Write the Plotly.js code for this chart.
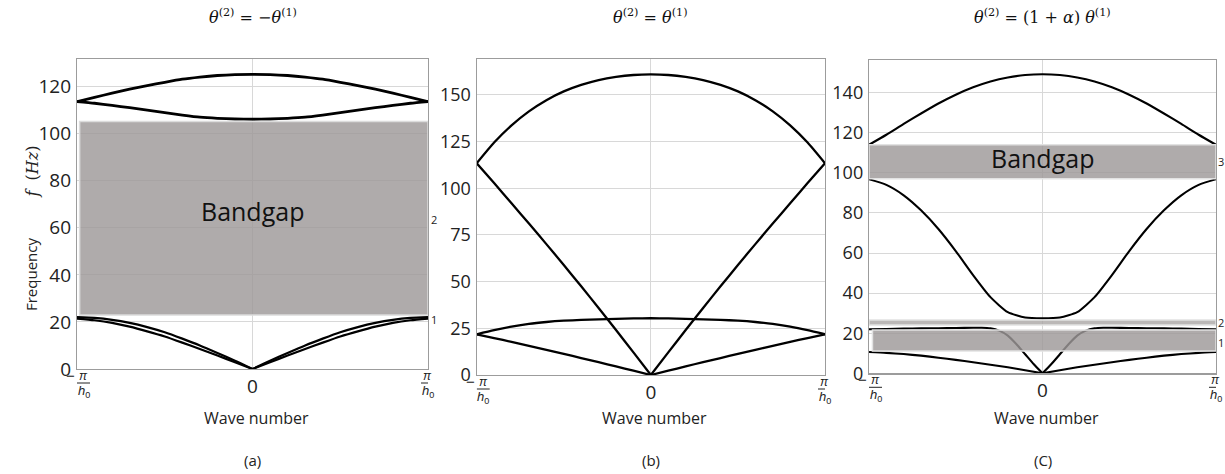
<!DOCTYPE html>
<html>
<head>
<meta charset="utf-8">
<script src="https://cdn.plot.ly/plotly-3.0.1.min.js"></script>
<style>html,body{margin:0;padding:0;background:#fff;}#chart{width:1225px;height:474px;}</style>
</head>
<body>
<div id="chart"></div>
<script>
// ---------- data ----------
const k = [-1,-0.9,-0.8,-0.7,-0.6,-0.5,-0.4,-0.3,-0.2,-0.1,0,0.1,0.2,0.3,0.4,0.5,0.6,0.7,0.8,0.9,1];
const kFine = [-1,-0.9,-0.8,-0.7,-0.6,-0.5,-0.4,-0.35,-0.3,-0.25,-0.2,-0.15,-0.1,-0.05,0,0.05,0.1,0.15,0.2,0.25,0.3,0.35,0.4,0.5,0.6,0.7,0.8,0.9,1];

// panel (a): theta2 = -theta1
const aLowOuter = [22.0,21.7,20.9,19.6,17.8,15.6,12.9,10.0,6.8,3.5,0,3.5,6.8,10.0,12.9,15.6,17.8,19.6,20.9,21.7,22.0];
const aLowInner = [21.4,20.7,19.6,18.0,16.0,13.8,11.2,8.5,5.7,2.9,0,2.9,5.7,8.5,11.2,13.8,16.0,18.0,19.6,20.7,21.4];
const aUpTop    = [113.6,115.4,117.2,118.9,120.4,121.8,123.1,124.0,124.7,125.1,125.2,125.1,124.7,124.0,123.1,121.8,120.4,118.9,117.2,115.4,113.6];
const aUpBot    = [113.6,112.9,112.0,111.0,110.0,108.9,107.9,107.0,106.5,106.2,106.1,106.2,106.5,107.0,107.9,108.9,110.0,111.0,112.0,112.9,113.6];

// panel (b): theta2 = theta1
const bAc1 = [21.8,19.8,17.7,15.6,13.5,11.3,9.1,6.9,4.6,2.3,0,2.3,4.6,6.9,9.1,11.3,13.5,15.6,17.7,19.8,21.8];
const bOp1 = [21.8,24.0,25.9,27.4,28.4,29.1,29.5,29.8,30.1,30.3,30.4,30.3,30.1,29.8,29.5,29.1,28.4,27.4,25.9,24.0,21.8];
const bAc2 = [113.4,102.8,92.0,81.1,70.1,58.9,47.5,35.9,24.1,12.1,0,12.1,24.1,35.9,47.5,58.9,70.1,81.1,92.0,102.8,113.4];
const bOp2 = [113.4,124.5,133.7,141.2,147.2,151.9,155.4,158.0,159.7,160.7,161.0,160.7,159.7,158.0,155.4,151.9,147.2,141.2,133.7,124.5,113.4];

// panel (c): theta2 = (1+alpha) theta1
const cBot = [10.6,10.2,9.6,8.8,7.8,6.7,5.5,4.3,3.0,1.5,0,1.5,3.0,4.3,5.5,6.7,7.8,8.8,9.6,10.2,10.6];
const cDip = [22.0,22.1,22.3,22.4,22.5,22.6,22.7,22.7,22.4,21.3,18.8,14.5,9.5,4.5,0,4.5,9.5,14.5,18.8,21.3,22.4,22.7,22.7,22.6,22.5,22.4,22.3,22.1,22.0];
const cMid = [96.8,94.0,88.8,81.3,72.0,61.0,49.0,38.0,30.5,27.8,27.4,27.8,30.5,38.0,49.0,61.0,72.0,81.3,88.8,94.0,96.8];
const cTop = [114.0,119.0,124.4,129.6,134.6,139.0,142.7,145.6,147.6,148.8,149.2,148.8,147.6,145.6,142.7,139.0,134.6,129.6,124.4,119.0,114.0];

// band gaps
const gapLowA  = [22.9];
const gapHighA = [105.1];
const gapLowC  = [11.1, 24.1, 97.0];
const gapHighC = [21.6, 26.6, 114.0];

// band labels at right side
const labA  = ['1', '2'];
const labAY = [21.0, 63.5];
const labC  = ['1', '2', '3'];
const labCY = [15.3, 25.2, 105.6];

// axis ticks
const yTicksA = [0,20,40,60,80,100,120];
const yTicksB = [0,25,50,75,100,125,150];
const yTicksC = [0,20,40,60,80,100,120,140];
const yRangeA = [0,131.7], yRangeB = [0,169.1], yRangeC = [0,156.3];

const panelTitles = ['<i>θ</i><sup>(2)</sup> = −<i>θ</i><sup>(1)</sup>', '<i>θ</i><sup>(2)</sup> = <i>θ</i><sup>(1)</sup>', '<i>θ</i><sup>(2)</sup> = (1 + <i>α</i>) <i>θ</i><sup>(1)</sup>'];
const panelTags = ['(a)', '(b)', '(C)'];

// ---------- build ----------
const W = 1225, H = 474;
const traces = [];
function curve(xs, ys, ax, w, splitCenter) {
  const xa = ax === 1 ? 'x' : 'x' + ax, ya = ax === 1 ? 'y' : 'y' + ax;
  const ln = {color: '#000', width: w, shape: 'spline', smoothing: 0.6};
  if (splitCenter) {
    const m = xs.indexOf(0);
    traces.push({x: xs.slice(0, m + 1), y: ys.slice(0, m + 1), xaxis: xa, yaxis: ya, mode: 'lines', line: ln, hoverinfo: 'skip'});
    traces.push({x: xs.slice(m), y: ys.slice(m), xaxis: xa, yaxis: ya, mode: 'lines', line: ln, hoverinfo: 'skip'});
  } else {
    traces.push({x: xs, y: ys, xaxis: xa, yaxis: ya, mode: 'lines', line: ln, hoverinfo: 'skip'});
  }
}
curve(k, aLowOuter, 1, 2.2, true);
curve(k, aLowInner, 1, 2.2, true);
curve(k, aUpTop, 1, 2.8, false);
curve(k, aUpBot, 1, 2.8, false);
curve(k, bAc1, 2, 2.3, true);
curve(k, bOp1, 2, 2.3, false);
curve(k, bAc2, 2, 2.3, true);
curve(k, bOp2, 2, 2.3, false);
curve(k, cBot, 3, 2.1, true);
curve(kFine, cDip, 3, 2.1, true);
curve(k, cMid, 3, 2.1, false);
curve(k, cTop, 3, 2.1, false);

// domains (px -> paper)
const dom = [
  {x: [77, 428], y: [59, 369]},
  {x: [476.7, 825], y: [59.3, 375]},
  {x: [869, 1216], y: [60, 373.3]}
];
const px = v => v / W, py = v => 1 - v / H;

const gridC = '#d8d8d8', frameC = '#9c9c9c';
function xAxis(i) {
  return {domain: [px(dom[i].x[0]), px(dom[i].x[1])], range: [-1, 1], anchor: i === 0 ? 'y' : 'y' + (i + 1),
    tickvals: [0], ticktext: ['0'], showgrid: true, gridcolor: gridC, gridwidth: 1, zeroline: false,
    showline: true, mirror: true, linecolor: frameC, linewidth: 1.2, ticks: '', tickfont: {size: 19, color: '#222', family: 'Open Sans'}, fixedrange: true};
}
function yAxis(i, tv, rg, fs) {
  return {domain: [py(dom[i].y[1]), py(dom[i].y[0])], range: rg, anchor: i === 0 ? 'x' : 'x' + (i + 1),
    tickvals: tv, showgrid: true, gridcolor: gridC, gridwidth: 1, zeroline: false,
    showline: true, mirror: true, linecolor: frameC, linewidth: 1.2, ticks: '', ticklabelstandoff: 1,
    tickfont: {size: fs, color: '#222', family: 'Open Sans'}, fixedrange: true};
}

const shapes = [];
const annotations = [];
const gapFill = 'rgba(158,153,152,0.82)';
function band(i, lo, hi, x0, fill, lineC) {
  const xa = i === 0 ? 'x' : 'x' + (i + 1), ya = i === 0 ? 'y' : 'y' + (i + 1);
  shapes.push({type: 'rect', xref: xa, yref: ya, x0: x0, x1: 1, y0: lo, y1: hi, fillcolor: fill, line: {color: lineC, width: 1.5}, layer: 'above'});
}
gapLowA.forEach((lo, j) => band(0, lo, gapHighA[j], -0.985, gapFill, '#dcdcdc'));
gapLowC.forEach((lo, j) => band(2, lo, gapHighC[j], j === 0 ? -0.98 : -1, j === 1 ? 'rgba(170,166,165,0.8)' : gapFill, '#e2e2e2'));

// Bandgap texts
annotations.push({xref: 'x', yref: 'y', x: 0, y: 67, text: 'Bandgap', showarrow: false, font: {family: 'Open Sans', size: 25, color: '#111'}});
annotations.push({xref: 'x3', yref: 'y3', x: 0, y: 107.4, text: 'Bandgap', showarrow: false, font: {family: 'Open Sans', size: 25, color: '#111'}});

// band number labels
labA.forEach((t, j) => annotations.push({xref: 'x', yref: 'y', x: 1, y: labAY[j], xanchor: 'left', xshift: 1, text: t, showarrow: false, font: {size: 11, color: '#222'}}));
labC.forEach((t, j) => annotations.push({xref: 'x3', yref: 'y3', x: 1, y: labCY[j], xanchor: 'left', xshift: 0, text: t, showarrow: false, font: {size: 11, color: '#222'}}));

// x tick fractions  -pi/h0 and pi/h0
for (let i = 0; i < 3; i++) {
  const xa = i === 0 ? 'x' : 'x' + (i + 1), yd = (i === 0 ? 'y' : 'y' + (i + 1)) + ' domain';
  [[-1, 6.5], [1, -0.5]].forEach(([xv, sh]) => {
    annotations.push({xref: xa, yref: yd, x: xv, y: 0, xshift: sh, yshift: -7, yanchor: 'middle', text: '<i>π</i>', showarrow: false, font: {family: 'Liberation Sans', size: 12, color: '#222'}});
    annotations.push({xref: xa, yref: yd, x: xv, y: 0, xshift: sh, yshift: -22, yanchor: 'middle', text: '<i>h</i><sub>0</sub>', showarrow: false, font: {family: 'Liberation Sans', size: 13, color: '#222'}});
    shapes.push({type: 'line', xref: xa, yref: yd, xsizemode: 'pixel', ysizemode: 'pixel', xanchor: xv, yanchor: 0,
      x0: sh - 6.5, x1: sh + 6.5, y0: -14, y1: -14, line: {color: '#222', width: 1}});
  });
  annotations.push({xref: xa, yref: yd, x: -1, y: 0, xshift: -6.5, yshift: -6, yanchor: 'middle', text: '−', showarrow: false, font: {family: 'Liberation Sans', size: 15, color: '#222'}});
  // axis titles and tags
  annotations.push({xref: xa + ' domain', yref: 'paper', x: 0.5, y: py(418), xshift: 4, yanchor: 'middle', text: 'Wave number', showarrow: false, font: {family: 'Open Sans', size: 16, color: '#222'}});
  annotations.push({xref: xa + ' domain', yref: 'paper', x: 0.5, y: py(460), yanchor: 'middle', text: panelTags[i], showarrow: false, font: {family: 'Open Sans', size: 15, color: '#222'}});
  annotations.push({xref: xa + ' domain', yref: 'paper', x: 0.5, y: py(16), yanchor: 'middle', text: panelTitles[i], showarrow: false, font: {family: 'DejaVu Serif', size: 16, color: '#111'}});
}
// y title of panel (a)
annotations.push({xref: 'paper', yref: 'paper', x: px(19), y: py(275), textangle: -90, text: 'Frequency', showarrow: false, font: {family: 'Open Sans', size: 15, color: '#222'}});
annotations.push({xref: 'paper', yref: 'paper', x: px(20), y: py(172), textangle: -90, text: '<i>f</i>  (<i>Hz</i>)', showarrow: false, font: {family: 'DejaVu Serif', size: 16, color: '#222'}});

const layout = {
  width: W, height: H, margin: {l: 0, r: 0, t: 0, b: 0}, showlegend: false,
  paper_bgcolor: '#fff', plot_bgcolor: '#fff', font: {family: 'Open Sans', color: '#222'},
  xaxis: xAxis(0), xaxis2: xAxis(1), xaxis3: xAxis(2),
  yaxis: yAxis(0, yTicksA, yRangeA, 19), yaxis2: yAxis(1, yTicksB, yRangeB, 18), yaxis3: yAxis(2, yTicksC, yRangeC, 18),
  shapes: shapes, annotations: annotations
};
Plotly.newPlot('chart', traces, layout, {staticPlot: true, displayModeBar: false});
</script>
</body>
</html>
